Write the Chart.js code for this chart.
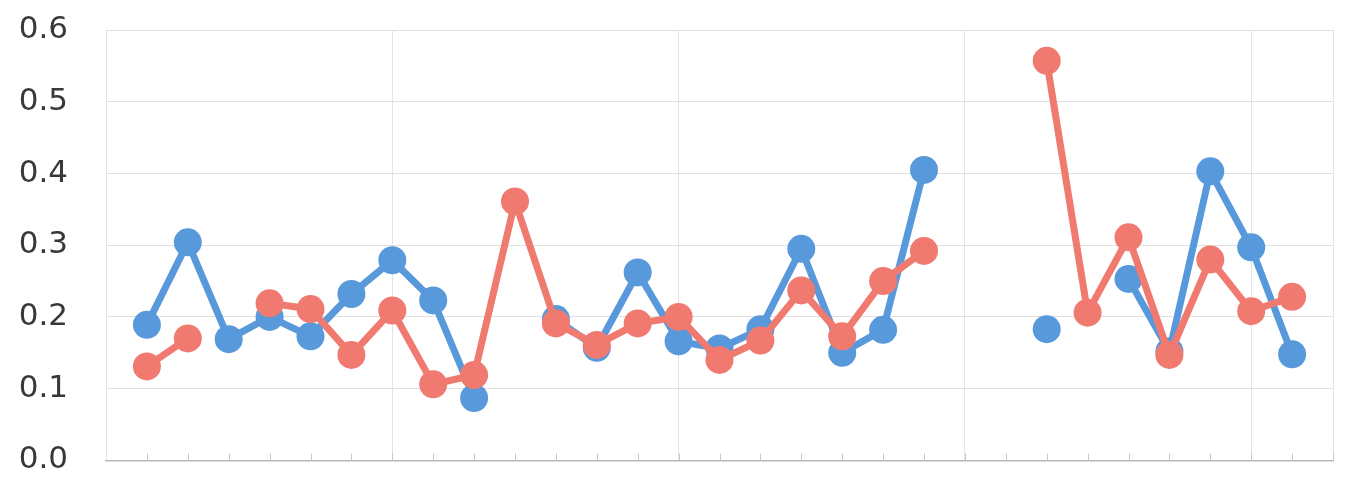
<!DOCTYPE html>
<html>
<head>
<meta charset="utf-8">
<script src="https://cdn.jsdelivr.net/npm/chart.js@4/dist/chart.umd.min.js"></script>
<style>
  html, body { margin: 0; padding: 0; background: #ffffff; }
  #wrap { width: 1347px; height: 479px; }
</style>
</head>
<body>
<div id="wrap"><canvas id="lineChart"></canvas></div>
<script>
// positions 0..28 along the x axis (no labels shown on the original)
var positions = [0, 1, 2, 3, 4, 5, 6, 7, 8, 9, 10, 11, 12, 13, 14, 15, 16, 17, 18, 19, 20, 21, 22, 23, 24, 25, 26, 27, 28];

var serieBleue = [0.189, 0.304, 0.169, 0.200, 0.173, 0.232, 0.279, 0.223, 0.087, null,
                  0.197, 0.157, 0.262, 0.166, 0.156, 0.183, 0.295, 0.150, 0.182, 0.405,
                  null, null, 0.183, null, 0.253, 0.152, 0.403, 0.297, 0.148];

var serieRouge = [0.131, 0.170, null, 0.219, 0.211, 0.147, 0.209, 0.106, 0.119, 0.361,
                  0.191, 0.161, 0.191, 0.200, 0.140, 0.167, 0.237, 0.173, 0.250, 0.292,
                  null, null, 0.557, 0.206, 0.311, 0.147, 0.280, 0.208, 0.228];

var yTicks = ['0.0', '0.1', '0.2', '0.3', '0.4', '0.5', '0.6'];

// vertical grid lines only every 7 positions (plus the right edge)
var xGrid = [-1, 6, 13, 20, 27, 29];

function points(serie) {
    return serie.map(function (v, i) { return { x: positions[i], y: v }; });
}

// small tick marks drawn upward from the x axis, like in the scan
var petitsTraits = {
    id: 'petitsTraits',
    beforeDatasetsDraw: function (chart) {
        var xs = chart.scales.x;
        var ctx = chart.ctx;
        var bas = chart.chartArea.bottom;
        ctx.save();
        ctx.strokeStyle = '#c8c8c8';
        ctx.lineWidth = 1;
        xs.ticks.forEach(function (t) {
            if (t.value < 0) return;
            var px = Math.round(xs.getPixelForValue(t.value)) + 0.5;
            ctx.beginPath();
            ctx.moveTo(px, bas);
            ctx.lineTo(px, bas - 7);
            ctx.stroke();
        });
        ctx.restore();
    }
};

var ctx = document.getElementById('lineChart').getContext('2d');
var lineChart = new Chart(ctx, {
    type: 'line',
    data: {
        datasets: [{
            label: 'Rouge',
            data: points(serieRouge),
            borderColor: '#f07a70',
            backgroundColor: '#f07a70',
            borderWidth: 7,
            pointRadius: 14,
            pointBorderWidth: 0,
            tension: 0
        }, {
            label: 'Bleu',
            data: points(serieBleue),
            borderColor: '#5899dc',
            backgroundColor: '#5899dc',
            borderWidth: 7,
            pointRadius: 14,
            pointBorderWidth: 0,
            tension: 0
        }]
    },
    options: {
        responsive: true,
        maintainAspectRatio: false,
        animation: false,
        layout: { padding: { left: 0, right: 7, top: 30, bottom: 14 } },
        plugins: {
            legend: { display: false },
            tooltip: { enabled: false }
        },
        scales: {
            x: {
                type: 'linear',
                min: -1,
                max: 29,
                ticks: { stepSize: 1, display: false },
                grid: {
                    drawTicks: false,
                    lineWidth: 1,
                    color: function (c) {
                        return xGrid.indexOf(c.tick.value) >= 0 ? '#e2e4e8' : 'rgba(0,0,0,0)';
                    }
                },
                border: { display: true, color: '#b8b8b8', width: 1.5 }
            },
            y: {
                min: 0,
                max: 0.6,
                afterFit: function (scale) { scale.width = 106; },
                ticks: {
                    stepSize: 0.1,
                    padding: 0,
                    color: '#383838',
                    font: { family: 'DejaVu Sans', size: 31 },
                    callback: function (v) {
                        return yTicks[Math.round(v * 10)];
                    }
                },
                grid: {
                    drawTicks: true,
                    tickLength: 38,
                    tickColor: 'rgba(0,0,0,0)',
                    color: '#e0e0e0',
                    lineWidth: 1
                },
                border: { display: false }
            }
        }
    },
    plugins: [petitsTraits]
});
</script>
</body>
</html>
